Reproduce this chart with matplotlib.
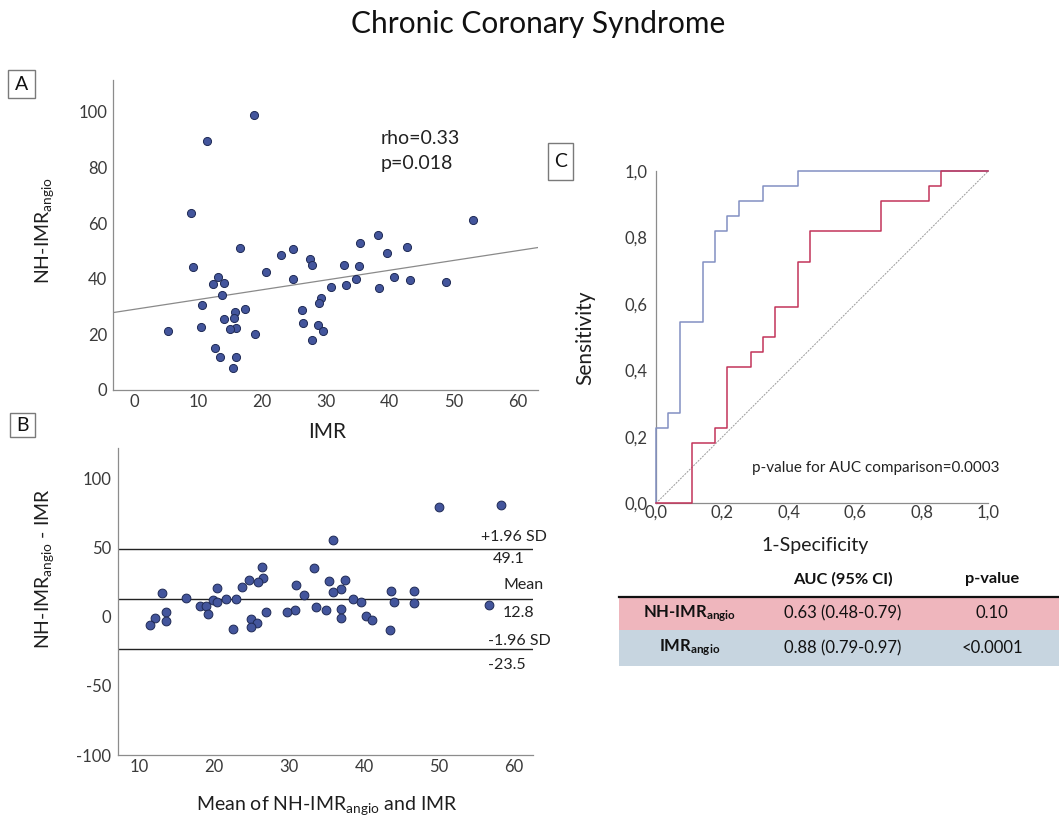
import numpy as np
import matplotlib
matplotlib.use("Agg")
import matplotlib.pyplot as plt
from matplotlib.patches import Rectangle

plt.rcParams["font.family"] = ["Lato", "DejaVu Sans"]
plt.rcParams["mathtext.fontset"] = "custom"
plt.rcParams["mathtext.rm"] = "Lato"
plt.rcParams["mathtext.it"] = "Lato:italic"
plt.rcParams["mathtext.bf"] = "Lato:bold"

# ---------------- Panel A: NH-IMR_angio vs IMR ----------------
imr = [18.7, 11.4, 8.9, 53.1, 38.1, 35.4, 42.7, 16.6, 24.9, 39.5,
       23.0, 27.5, 9.2, 27.9, 32.9, 35.2, 20.6, 40.6, 13.2, 24.8,
       34.8, 43.1, 48.8, 12.3, 14.0, 33.2, 30.8, 38.3, 13.8, 29.3,
       28.9, 10.7, 17.4, 26.2, 15.8, 15.7, 14.0, 26.5, 28.8, 10.4,
       16.0, 15.0, 5.3, 29.5, 18.9, 27.9, 12.6, 13.4, 15.9, 15.4]
nh_imr = [98.9, 89.7, 63.7, 61.0, 55.8, 52.7, 51.5, 51.0, 50.7, 49.3,
          48.4, 47.2, 44.3, 44.8, 45.0, 44.7, 42.3, 40.7, 40.6, 39.9,
          40.0, 39.7, 38.7, 38.1, 38.4, 37.6, 37.2, 36.6, 34.3, 33.1,
          31.3, 30.7, 29.1, 28.6, 27.9, 25.8, 25.5, 24.0, 23.2, 22.8,
          22.4, 21.8, 21.4, 21.4, 20.0, 17.9, 15.0, 11.8, 11.8, 8.0]
fit_intercept = 29.0
fit_slope = 0.352
corr_lines = ["rho=0.33", "p=0.018"]

# ---------------- Panel B: Bland-Altman ----------------
ba_mean = [58.2, 50.0, 35.9, 33.4, 26.4, 26.6, 24.7, 25.9, 35.3, 37.4,
           23.7, 20.4, 31.0, 37.0, 13.1, 35.9, 32.0, 43.6, 46.6, 16.3,
           21.6, 22.9, 19.9, 38.5, 20.4, 39.6, 44.0, 46.6, 56.6, 18.1,
           19.0, 33.6, 37.0, 35.0, 30.8, 13.6, 27.0, 29.8, 19.2, 40.3,
           12.2, 37.0, 24.9, 41.0, 13.6, 25.7, 11.5, 25.0, 22.5, 43.4]
ba_diff = [80.8, 79.1, 55.8, 35.1, 35.8, 28.1, 26.7, 25.0, 26.0, 26.7,
           21.4, 20.9, 22.6, 20.4, 16.8, 17.8, 15.9, 18.3, 18.5, 13.2,
           12.7, 12.5, 12.0, 12.7, 10.6, 10.3, 10.6, 9.6, 8.7, 7.7,
           7.5, 7.2, 5.8, 5.0, 4.8, 3.4, 3.1, 3.1, 2.2, 0.7,
           -0.7, -1.0, -1.7, -2.6, -3.1, -4.6, -6.3, -7.7, -9.1, -9.4]
loa_upper = 49.1
bias = 12.8
loa_lower = -23.5

# ---------------- Panel C: ROC curves ----------------
n_neg, n_pos = 28, 22
imr_angio_fp = [0, 0, 1, 2, 4, 5, 6, 7, 9, 12, 28]
imr_angio_tp = [0, 5, 6, 12, 16, 18, 19, 20, 21, 22, 22]
nh_imr_fp = [0, 3, 5, 6, 8, 9, 10, 12, 13, 19, 23, 24, 28]
nh_imr_tp = [0, 4, 5, 9, 10, 11, 13, 16, 18, 20, 21, 22, 22]
roc_ticks = [0.0, 0.2, 0.4, 0.6, 0.8, 1.0]
roc_ticklabels = ["0,0", "0,2", "0,4", "0,6", "0,8", "1,0"]
auc_pvalue_note = "p-value for AUC comparison=0.0003"

# ---------------- Table ----------------
table_header = ["AUC (95% CI)", "p-value"]
table_rows = [r"NH-IMR$_{\mathbf{angio}}$", r"IMR$_{\mathbf{angio}}$"]
table_auc = ["0.63 (0.48-0.79)", "0.88 (0.79-0.97)"]
table_p = ["0.10", "<0.0001"]

W, H = 1059, 823
fig = plt.figure(figsize=(W / 100, H / 100), dpi=100)


def box(x0, y0, x1, y1):
    """Axes rectangle from pixel edges (origin top-left)."""
    return [x0 / W, 1 - y1 / H, (x1 - x0) / W, (y1 - y0) / H]


dot_face = "#43559c"
dot_edge = "#1f2a55"
spine_c = "#8c8c8c"
tick_c = "#3a3a3a"
TICK_FS = 12


def style_axes(ax, ypad=4, xpad=3):
    for s in ("top", "right"):
        ax.spines[s].set_visible(False)
    for s in ("left", "bottom"):
        ax.spines[s].set_color(spine_c)
        ax.spines[s].set_linewidth(0.9)
    ax.tick_params(length=0, labelsize=TICK_FS, colors=tick_c)
    ax.tick_params(axis="y", pad=ypad)
    ax.tick_params(axis="x", pad=xpad)
    ax.patch.set_alpha(0)


# Panel A
axA = fig.add_axes(box(113, 80, 538, 390))
style_axes(axA)
axA.set_xlim(-3.3, 63.2)
axA.set_ylim(0, 111.5)
axA.set_xticks(range(0, 61, 10))
axA.set_yticks(range(0, 101, 20))
xl = np.array(axA.get_xlim())
axA.plot(xl, fit_intercept + fit_slope * xl, color="#8a8a8a", lw=0.9, zorder=2)
axA.scatter(imr, nh_imr, s=34, color=dot_face, edgecolors=dot_edge,
            linewidths=0.7, zorder=3)
axA.text(0.629, 0.81, corr_lines[0], transform=axA.transAxes, fontsize=14,
         color="#222222", va="center")
axA.text(0.629, 0.73, corr_lines[1], transform=axA.transAxes, fontsize=14,
         color="#222222", va="center")

# Panel B
axB = fig.add_axes(box(118, 448, 533, 755))
style_axes(axB, ypad=5)
axB.set_xlim(7.24, 62.5)
axB.set_ylim(-99, 122)
axB.set_xticks(range(10, 61, 10))
axB.set_yticks([-100, -50, 0, 50, 100])
axB.set_yticklabels(["-100", "-50", "0", "50", "100"])
for yv in (loa_upper, bias, loa_lower):
    axB.axhline(yv, color="#222222", lw=1.0, zorder=2)
axB.scatter(ba_mean, ba_diff, s=40, color=dot_face, edgecolors=dot_edge,
            linewidths=0.7, zorder=3)

# Panel C
axC = fig.add_axes(box(656, 171, 988.3, 503.3))
style_axes(axC, ypad=6, xpad=1)
axC.set_xlim(0, 1)
axC.set_ylim(0, 1)
axC.set_xticks(roc_ticks)
axC.set_xticklabels(roc_ticklabels)
axC.set_yticks(roc_ticks)
axC.set_yticklabels(roc_ticklabels)
axC.plot([0, 1], [0, 1], color="#9a9a9a", lw=0.7, ls=(0, (2, 1.2)), zorder=1)
axC.step(np.array(imr_angio_fp) / n_neg, np.array(imr_angio_tp) / n_pos,
         where="post", color="#8290c2", lw=1.1, clip_on=False, zorder=3)
axC.step(np.array(nh_imr_fp) / n_neg, np.array(nh_imr_tp) / n_pos,
         where="post", color="#c2345a", lw=1.1, clip_on=False, zorder=3)
axC.text(1.035, 0.105, auc_pvalue_note, transform=axC.transAxes,
         ha="right", va="center", fontsize=11, color="#222222")

# Overlay in pixel coordinates for titles, labels and the table
ov = fig.add_axes([0, 0, 1, 1], zorder=10)
ov.set_xlim(0, W)
ov.set_ylim(H, 0)
ov.axis("off")

ov.text(538, 24, "Chronic Coronary Syndrome", ha="center", va="center",
        fontsize=21.5, color="#111111")

label_c = "#1e1e1e"
ov.text(327, 432, "IMR", ha="center", va="center", fontsize=15, color=label_c)
ov.text(45, 230, r"NH-IMR$_{\mathrm{angio}}$", ha="center", va="center",
        rotation=90, fontsize=14, color=label_c)
ov.text(327, 806, r"Mean of NH-IMR$_{\mathrm{angio}}$ and IMR", ha="center",
        va="center", fontsize=14, color=label_c)
ov.text(45, 569, r"NH-IMR$_{\mathrm{angio}}$ - IMR", ha="center", va="center",
        rotation=90, fontsize=14, color=label_c)
ov.text(585, 338, "Sensitivity", ha="center", va="center", rotation=90,
        fontsize=15, color=label_c)
ov.text(815, 545, "1-Specificity", ha="center", va="center", fontsize=14,
        color=label_c)

# Bland-Altman line annotations
ann_kw = dict(fontsize=11.5, color="#222222", va="center")
ov.text(547, 537, "+1.96 SD", ha="right", **ann_kw)
ov.text(509, 559, f"{loa_upper:.1f}", ha="center", **ann_kw)
ov.text(524, 585, "Mean", ha="center", **ann_kw)
ov.text(519, 613, f"{bias:.1f}", ha="center", **ann_kw)
ov.text(488, 641, "-1.96 SD", ha="left", **ann_kw)
ov.text(488, 665, f"{loa_lower:.1f}", ha="left", **ann_kw)

# Panel letters
letter_kw = dict(fontsize=14, color="#111111", ha="center", va="center")
for lx, ly, x0, y0, x1, y1, t in [(21.5, 84, 8, 70, 35, 98, "A"),
                                   (22.5, 425, 10, 413, 35, 437, "B"),
                                   (560.5, 161.5, 548, 143, 573, 180, "C")]:
    ov.add_patch(Rectangle((x0, y0), x1 - x0, y1 - y0, fill=False,
                           edgecolor="#7a7a7a", lw=1.0))
    ov.text(lx, ly, t, **letter_kw)

# Results table
row_colors = ["#efb6bd", "#c7d5e0"]
row_edges = [597, 630, 666]
for i in range(2):
    ov.add_patch(Rectangle((619, row_edges[i]), W - 619,
                           row_edges[i + 1] - row_edges[i],
                           facecolor=row_colors[i], edgecolor="none", zorder=1))
ov.plot([619, W], [row_edges[0], row_edges[0]], color="#111111", lw=1.6, zorder=2)
col_x = [690, 843, 992]
TAB_FS = 12
ov.text(col_x[1], 579, table_header[0], ha="center", va="center",
        fontsize=11.8, fontweight="bold", color="#111111")
ov.text(col_x[2], 579, table_header[1], ha="center", va="center",
        fontsize=11.8, fontweight="bold", color="#111111")
for i in range(2):
    yc = (row_edges[i] + row_edges[i + 1]) / 2
    ov.text(col_x[0], yc, table_rows[i], ha="center", va="center",
            fontsize=TAB_FS, fontweight="bold", color="#111111", zorder=3)
    ov.text(col_x[1], yc, table_auc[i], ha="center", va="center",
            fontsize=TAB_FS, color="#111111", zorder=3)
    ov.text(col_x[2], yc, table_p[i], ha="center", va="center",
            fontsize=TAB_FS, color="#111111", zorder=3)

fig.savefig("out.png", dpi=100)
